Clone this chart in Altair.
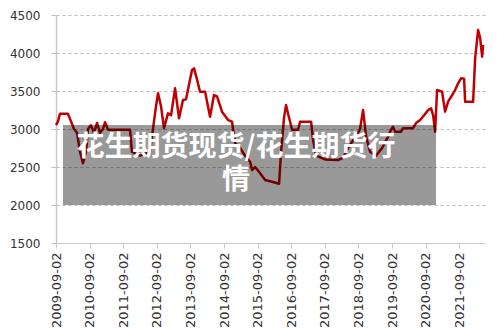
import altair as alt
import pandas as pd

dates = [
    "2009-09-02", "2009-09-24", "2009-10-15", "2010-01-10", "2010-02-12", "2010-03-17",
    "2010-04-18", "2010-05-21", "2010-06-22", "2010-07-25", "2010-08-16", "2010-09-17",
    "2010-10-20", "2010-11-22", "2010-12-24", "2011-01-26", "2011-02-17", "2011-03-21",
    "2011-11-15", "2011-12-07", "2012-03-03", "2012-06-20", "2012-07-22", "2012-08-24",
    "2012-09-15", "2012-10-17", "2012-11-19", "2013-01-01", "2013-02-03", "2013-03-19",
    "2013-05-01", "2013-06-13", "2013-07-16", "2013-08-29", "2013-09-19", "2013-10-11",
    "2013-11-13", "2013-12-15", "2014-02-08", "2014-04-03", "2014-05-16", "2014-06-18",
    "2014-08-11", "2014-10-16", "2014-11-28", "2014-12-31", "2015-02-23", "2015-04-18",
    "2015-06-12", "2015-07-04", "2015-08-05", "2015-09-28", "2015-11-22", "2016-02-06",
    "2016-04-22", "2016-05-14", "2016-06-15", "2016-07-07", "2016-07-29", "2016-08-20",
    "2016-09-10", "2016-11-15", "2016-12-06", "2017-04-05", "2017-04-27", "2017-05-29",
    "2017-09-04", "2018-01-23", "2018-03-19", "2018-05-12", "2018-07-05", "2018-08-29",
    "2018-09-19", "2018-10-22", "2018-11-24", "2019-01-06", "2019-03-12", "2019-05-17",
    "2019-07-21", "2019-08-22", "2019-09-13", "2019-10-05", "2019-12-09", "2019-12-31",
    "2020-04-17", "2020-05-20", "2020-07-03", "2020-08-15", "2020-09-28", "2020-10-30",
    "2020-11-21", "2020-12-13", "2021-01-03", "2021-02-27", "2021-03-31", "2021-05-03",
    "2021-06-16", "2021-07-18", "2021-08-20", "2021-09-21", "2021-10-24", "2021-11-04",
    "2022-01-30", "2022-02-21", "2022-03-25", "2022-04-16", "2022-05-08", "2022-05-18",
]
prices = [
    3050, 3100, 3200, 3200, 3100, 3000,
    2950, 2700, 2550, 2700, 3000, 3050,
    2950, 3080, 2950, 3000, 3090, 2990,
    2990, 2700, 2650, 2700, 3000, 3300,
    3470, 3300, 3010, 3206, 3180, 3535,
    3140, 3381, 3390, 3650, 3776, 3798,
    3650, 3490, 3490, 3162, 3447, 3430,
    3228, 3118, 3096, 2815, 2750, 2650,
    2570, 2460, 2500, 2420, 2330, 2306,
    2280, 2700, 3150, 3316, 3200, 3096,
    2990, 2990, 3096, 3096, 2855, 2650,
    2600, 2592, 2620, 2750, 2850, 2950,
    3000, 3250, 2900, 2700, 2650, 2750,
    2900, 2990, 3030, 2964, 2964, 3010,
    3010, 3078, 3118, 3180, 3250, 3272,
    3184, 2964, 3513, 3490, 3228, 3360,
    3447, 3513, 3601, 3667, 3660, 3360,
    3360, 3930, 4303, 4200, 3952, 4105,
]
tick_years = [2009, 2010, 2011, 2012, 2013, 2014, 2015, 2016, 2017, 2018, 2019, 2020, 2021]
y_ticks = [1500, 2000, 2500, 3000, 3500, 4000, 4500]
title_text = "花生期货现货/花生期货行\n情"

df = pd.DataFrame({"date": dates, "price": prices})

x_values = [alt.DateTime(year=y, month=9, date=2, utc=True) for y in tick_years]
x_domain = [alt.DateTime(year=2009, month=9, date=2, utc=True),
            alt.DateTime(year=2022, month=6, date=8, utc=True)]

line = alt.Chart(df).mark_line(color="#c00000", strokeWidth=2.5, strokeJoin="round").encode(
    x=alt.X("date:T",
            scale=alt.Scale(type="utc", domain=x_domain),
            axis=alt.Axis(values=x_values, format="%Y-%m-%d", labelAngle=-90, title=None,
                          grid=False, domainColor="#c8c8c8", tickColor="#c8c8c8",
                          tickSize=5, labelPadding=4, labelFontSize=13,
                          labelFont="DejaVu Sans", labelColor="#333333")),
    y=alt.Y("price:Q",
            scale=alt.Scale(domain=[1500, 4500], nice=False, zero=False),
            axis=alt.Axis(values=y_ticks, format="d", title=None, grid=True,
                          gridColor="#bbbbbb", gridDash=[3, 3], domainColor="#c8c8c8",
                          domainWidth=1.5, tickColor="#bbbbbb", tickSize=5, labelPadding=11,
                          labelFontSize=12, labelFont="DejaVu Sans", labelColor="#333333")),
)

one = pd.DataFrame({"k": [0]})
overlay = alt.Chart(one).mark_rect(color="black", opacity=0.4).encode(
    x=alt.value(7), x2=alt.value(380), y=alt.value(110), y2=alt.value(190)
)
title = alt.Chart(one).mark_text(
    font="Noto Sans CJK SC", fontWeight="bold", fontSize=28, color="white",
    align="center", baseline="middle", lineBreak="\n", lineHeight=33
).encode(x=alt.value(180), y=alt.value(133), text=alt.value(title_text))

chart = alt.layer(line, overlay, title).properties(
    width=429, height=228,
    autosize=alt.AutoSizeParams(type="none"),
    padding={"left": 56, "top": 15, "right": 15, "bottom": 89},
).configure_view(stroke=None)

chart.save("out.html", embed_options={"renderer": "svg", "actions": False})
